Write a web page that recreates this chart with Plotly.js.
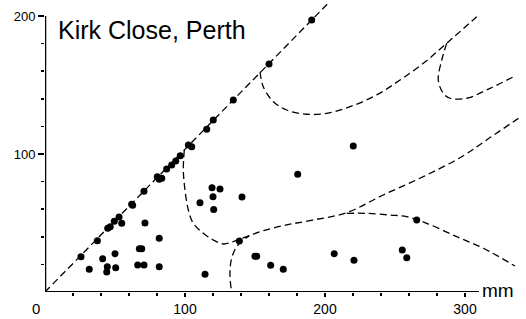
<!DOCTYPE html>
<html>
<head>
<meta charset="utf-8">
<script src="https://cdn.plot.ly/plotly-3.0.1.min.js"></script>
<style>html,body{margin:0;padding:0;background:#fff;}#chart{width:526px;height:319px;}</style>
</head>
<body>
<div id="chart"></div>
<script>
// Measured points (x in mm, y in mm)
const dotX = [25.7, 31.6, 37.4, 41.2, 44.5, 44.1, 44.8, 46.6, 49.5, 52.9, 54.8, 50.0, 50.5,
  61.9, 62.6, 71.4, 70.7, 67.4, 69.1, 66.2, 70.7, 81.6, 81.6, 80.2, 81.6, 83.4, 86.9, 90.5,
  93.4, 96.6, 102.4, 104.8, 115.5, 120.2, 134.5, 160.0, 190.5, 220.2, 180.5, 265.5,
  119.3, 125.0, 120.0, 110.7, 140.7, 120.5, 138.8, 150.0, 151.2, 161.2, 170.2, 114.3,
  206.6, 220.7, 255.2, 258.4];
const dotY = [25.6, 16.4, 37.2, 24.1, 18.3, 14.5, 46.2, 47.2, 51.2, 54.3, 49.8, 27.8, 17.6,
  63.6, 62.8, 50.0, 73.0, 31.4, 31.4, 19.6, 19.6, 38.9, 18.3, 83.6, 81.7, 82.4, 89.1, 92.0,
  94.9, 98.8, 106.5, 105.3, 117.9, 124.6, 139.1, 165.2, 197.1, 105.8, 85.3, 52.2,
  75.6, 74.6, 69.1, 64.7, 68.8, 59.7, 37.0, 25.9, 25.9, 19.3, 16.4, 12.8,
  27.8, 23.0, 30.4, 24.9];

// Reference line and dashed boundary curves
const diagX = [0, 202];
const diagY = [0, 209];
const curveAX = [153.6, 155.9, 163.1, 172.6, 186.9, 201.2, 217.9, 236.9, 253.6, 270.2, 286.9, 308.4];
const curveAY = [159.6, 148.8, 137.9, 131.9, 128.8, 129.5, 134.3, 142.8, 153.6, 165.7, 180.2, 199.5];
const curveEX = [286.9, 283.4, 280.9, 284.5, 289.3, 301.2, 317.9, 335.7];
const curveEY = [180.2, 168.1, 153.6, 144.0, 140.4, 140.4, 147.6, 156.5];
const curveCX = [99.5, 98.8, 100.0, 102.4, 105.9, 113.1, 120.2, 127.4, 134.5, 144.0, 155.9, 172.6, 191.6, 215.5, 241.6, 270.2, 297.6, 317.9, 338.1];
const curveCY = [102.9, 88.4, 73.9, 59.4, 49.8, 42.5, 37.7, 34.8, 36.5, 40.1, 44.4, 48.6, 52.2, 57.5, 70.3, 83.6, 98.0, 111.9, 125.8];
const curveBX = [132.9, 132.1, 133.3, 136.9, 141.7, 146.0];
const curveBY = [2.7, 13.5, 24.4, 32.8, 37.7, 40.8];
const curveDX = [215.5, 229.8, 246.4, 258.4, 272.6, 294.1, 313.1, 335.7];
const curveDY = [57.0, 57.0, 55.8, 54.6, 49.8, 40.1, 31.7, 18.8];

const xMajor = [100, 200, 300];
const xMajorText = ['100', '200', '300'];
const xMinor = [20, 40, 60, 80, 120, 140, 160, 180, 220, 240, 260, 280];
const yMajor = [100, 200];
const yMajorText = ['100', '200'];
const yMinor = [20, 40, 60, 80, 120, 140, 160, 180];

const FONT = 'Liberation Sans, Arial, Helvetica, sans-serif';
const dashLine = {color: '#000', width: 1.3, dash: '7px,4px', shape: 'spline', smoothing: 1};

function curve(x, y) {
  return {x: x, y: y, mode: 'lines', type: 'scatter', line: dashLine, hoverinfo: 'skip', showlegend: false};
}

const traces = [
  {x: diagX, y: diagY, mode: 'lines', type: 'scatter', line: {color: '#000', width: 1.3, dash: '7px,4px'}, showlegend: false},
  curve(curveAX, curveAY),
  curve(curveEX, curveEY),
  curve(curveCX, curveCY),
  curve(curveBX, curveBY),
  curve(curveDX, curveDY),
  {x: dotX, y: dotY, mode: 'markers', type: 'scatter', marker: {color: '#000', size: 7}, showlegend: false, cliponaxis: false}
];

const layout = {
  width: 526, height: 319,
  margin: {l: 45, r: 5, t: 0, b: 27},
  paper_bgcolor: '#fff', plot_bgcolor: '#fff',
  font: {family: FONT, color: '#000'},
  showlegend: false,
  title: {
    text: 'Kirk Close, Perth',
    font: {family: FONT, size: 25, color: '#000'},
    xref: 'container', yref: 'container',
    x: 58 / 526, xanchor: 'left',
    y: 1 - 30 / 319, yanchor: 'middle'
  },
  xaxis: {
    range: [0, 340], showgrid: false, zeroline: false, showline: false,
    tickmode: 'array', tickvals: xMajor, ticktext: xMajorText,
    ticks: 'outside', ticklen: 4, tickwidth: 1.5, tickcolor: '#000',
    ticklabelstandoff: 0,
    tickfont: {family: FONT, size: 14, color: '#000'},
    minor: {tickmode: 'array', tickvals: xMinor, ticks: 'outside', ticklen: 3, tickwidth: 1.5, tickcolor: '#000', showgrid: false}
  },
  yaxis: {
    range: [0, 211.6], showgrid: false, zeroline: false, showline: false,
    tickmode: 'array', tickvals: yMajor, ticktext: yMajorText,
    ticks: 'outside', ticklen: 6, tickwidth: 1.5, tickcolor: '#000',
    tickfont: {family: FONT, size: 13, color: '#000'},
    minor: {tickmode: 'array', tickvals: yMinor, ticks: 'outside', ticklen: 3, tickwidth: 1.5, tickcolor: '#000', showgrid: false}
  },
  shapes: [
    {type: 'line', xref: 'x', yref: 'y', x0: 0, y0: 0, x1: 0, y1: 200, line: {color: '#000', width: 2.5}},
    {type: 'line', xref: 'x', yref: 'y', x0: 0, y0: 0, x1: 310, y1: 0, line: {color: '#000', width: 2}}
  ],
  annotations: [
    {text: '0', xref: 'paper', yref: 'paper', x: -9 / 476, y: 0, xanchor: 'center', yanchor: 'top', yshift: -6, showarrow: false,
     font: {family: FONT, size: 15, color: '#000'}},
    {text: 'mm', xref: 'x', yref: 'y', x: 311, y: 0, xanchor: 'left', yanchor: 'middle', yshift: 2, showarrow: false,
     font: {family: FONT, size: 19, color: '#000'}}
  ]
};

Plotly.newPlot('chart', traces, layout, {staticPlot: true, displayModeBar: false});
</script>
</body>
</html>
